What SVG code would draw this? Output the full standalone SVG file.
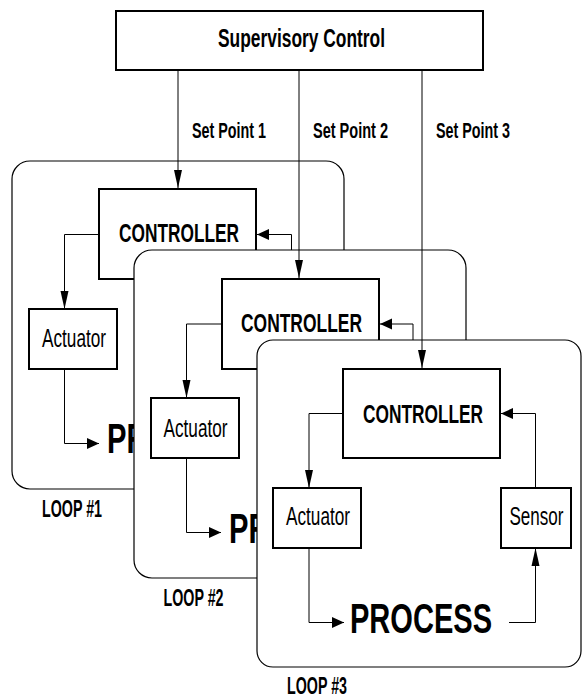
<svg xmlns="http://www.w3.org/2000/svg" width="582" height="697" viewBox="0 0 582 697">
<style>
.frame{fill:#fff;stroke:#000;stroke-width:1.2}
.box{fill:#fff;stroke:#000;stroke-width:2}
.b{font-family:"Liberation Sans",Arial,sans-serif;font-weight:bold;fill:#000}
.r{font-family:"Liberation Sans",Arial,sans-serif;fill:#000}
.c{fill:none;stroke:#000;stroke-width:1}
.cv{marker-end:url(#av)}
.ch{marker-end:url(#ah)}
</style>
<defs>
<marker id="av" markerUnits="userSpaceOnUse" markerWidth="20" markerHeight="12" viewBox="0 -6 18 12" refX="18" refY="0" orient="auto"><path d="M0,-4 L18,0 L0,4 z" fill="#000"/></marker>
<marker id="ah" markerUnits="userSpaceOnUse" markerWidth="14" markerHeight="14" viewBox="0 -7 12 14" refX="12" refY="0" orient="auto"><path d="M0,-5.5 L12,0 L0,5.5 z" fill="#000"/></marker>
</defs>

<g id="supervisory">
<rect class="box" x="116" y="11" width="367" height="59"/>
<text class="b" x="218" y="47" font-size="25" textLength="167" lengthAdjust="spacingAndGlyphs">Supervisory Control</text>
</g>

<g id="loop1">
<rect class="frame" x="12" y="161" width="332" height="328" rx="18"/>
<text class="b" x="42" y="516.5" font-size="23" textLength="60" lengthAdjust="spacingAndGlyphs">LOOP #1</text>
</g>
<g id="controller1">
<rect class="box" x="99" y="189" width="157" height="90"/>
<text class="b" x="119" y="242" font-size="26" textLength="120" lengthAdjust="spacingAndGlyphs">CONTROLLER</text>
</g>
<g id="actuator1">
<rect class="box" x="29" y="309" width="88" height="60"/>
<text class="r" x="42" y="347" font-size="25" textLength="64" lengthAdjust="spacingAndGlyphs">Actuator</text>
</g>
<g id="process1">
<text class="b" x="107" y="453" font-size="42" textLength="40.5" lengthAdjust="spacingAndGlyphs">PR</text>
</g>

<g id="loop2">
<rect class="frame" x="134" y="250" width="332" height="328" rx="18"/>
<text class="b" x="163.5" y="605.5" font-size="23" textLength="60" lengthAdjust="spacingAndGlyphs">LOOP #2</text>
</g>
<g id="controller2">
<rect class="box" x="222" y="279" width="157" height="90"/>
<text class="b" x="241" y="332" font-size="26" textLength="121" lengthAdjust="spacingAndGlyphs">CONTROLLER</text>
</g>
<g id="actuator2">
<rect class="box" x="151" y="398" width="88" height="60"/>
<text class="r" x="163.5" y="436.5" font-size="25" textLength="64" lengthAdjust="spacingAndGlyphs">Actuator</text>
</g>
<g id="process2">
<text class="b" x="229" y="542.5" font-size="42" textLength="40.5" lengthAdjust="spacingAndGlyphs">PR</text>
</g>

<g id="loop3">
<rect class="frame" x="257" y="340" width="324" height="327" rx="16"/>
<text class="b" x="287" y="694" font-size="23" textLength="60" lengthAdjust="spacingAndGlyphs">LOOP #3</text>
</g>
<g id="controller3">
<rect class="box" x="343" y="369" width="157" height="89"/>
<text class="b" x="363" y="422.5" font-size="26" textLength="120" lengthAdjust="spacingAndGlyphs">CONTROLLER</text>
</g>
<g id="actuator3">
<rect class="box" x="273" y="488" width="88" height="60"/>
<text class="r" x="286" y="525" font-size="25" textLength="64" lengthAdjust="spacingAndGlyphs">Actuator</text>
</g>
<g id="sensor3">
<rect class="box" x="501" y="488" width="70" height="60"/>
<text class="r" x="509.5" y="525" font-size="25" textLength="54" lengthAdjust="spacingAndGlyphs">Sensor</text>
</g>
<g id="process3">
<text class="b" x="350" y="633" font-size="42" textLength="142" lengthAdjust="spacingAndGlyphs">PROCESS</text>
</g>

<g id="connectors">
<path class="c cv" d="M99,234.5 H64.5 V309"/>
<path class="c ch" d="M64.5,369 V443.5 H99"/>
<path class="c ch" d="M291.5,250 V234.5 H257"/>
<path class="c cv" d="M222,324 H186.5 V398"/>
<path class="c ch" d="M186.5,458 V532.5 H221"/>
<path class="c ch" d="M413,340 V324 H380"/>
<path class="c cv" d="M343,413.5 H309 V488"/>
<path class="c ch" d="M309,548 V622.5 H344"/>
<path class="c cv" d="M509,622.5 H535.5 V548"/>
<path class="c ch" d="M535.5,488 V413.5 H501"/>
<path class="c cv" d="M178,71 V188"/>
<path class="c cv" d="M299,71 V278"/>
<path class="c cv" d="M422,71 V368"/>
<text class="b" x="192" y="138" font-size="22" textLength="74" lengthAdjust="spacingAndGlyphs">Set Point 1</text>
<text class="b" x="313" y="138" font-size="22" textLength="75" lengthAdjust="spacingAndGlyphs">Set Point 2</text>
<text class="b" x="436" y="138" font-size="22" textLength="74" lengthAdjust="spacingAndGlyphs">Set Point 3</text>
</g>
</svg>
